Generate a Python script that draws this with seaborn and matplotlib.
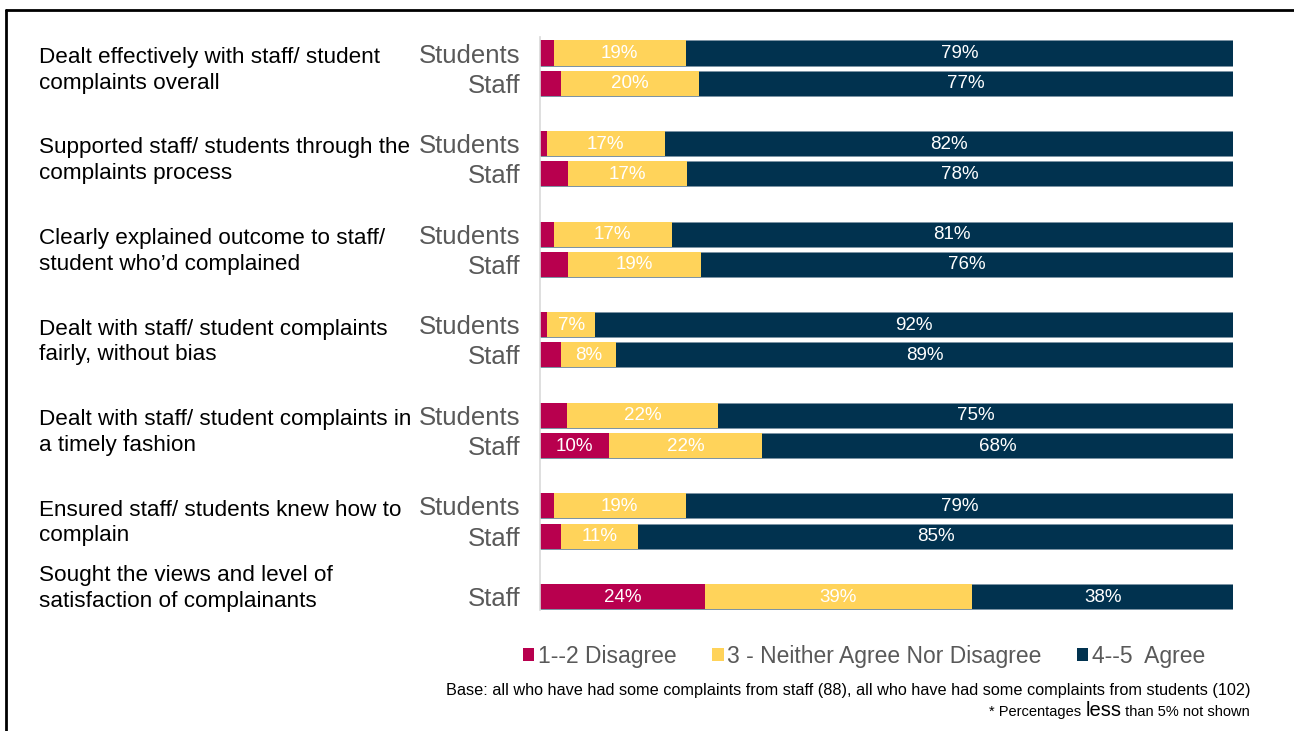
import numpy as np
import pandas as pd
import matplotlib
matplotlib.use("Agg")
import matplotlib.pyplot as plt
import matplotlib.transforms as mtransforms
from matplotlib.patches import Patch
from matplotlib.lines import Line2D
import seaborn as sns

# ---------------- data ----------------
questions = [
    "Dealt effectively with staff/ student\ncomplaints overall",
    "Supported staff/ students through the\ncomplaints process",
    "Clearly explained outcome to staff/\nstudent who\u2019d complained",
    "Dealt with staff/ student complaints\nfairly, without bias",
    "Dealt with staff/ student complaints in\na timely fashion",
    "Ensured staff/ students knew how to\ncomplain",
    "Sought the views and level of\nsatisfaction of complainants",
]
question_idx = [0, 0, 1, 1, 2, 2, 3, 3, 4, 4, 5, 5, 6]
respondent = ["Students", "Staff"] * 6 + ["Staff"]
disagree = [2, 3, 1, 4, 2, 4, 1, 3, 4, 10, 2, 3, 24]
neutral = [19, 20, 17, 17, 17, 19, 7, 8, 22, 22, 19, 11, 39]
agree = [79, 77, 82, 78, 81, 76, 92, 89, 75, 68, 79, 85, 38]
series_names = ["1--2 Disagree", "3 - Neither Agree Nor Disagree", "4--5  Agree"]
colors = ["#B8004E", "#FFD35A", "#01324F"]
base_note = ("Base: all who have had some complaints from staff (88), "
             "all who have had some complaints from students (102)")

# ---------------- layout helpers ----------------
df = pd.DataFrame({"q": question_idx, "who": respondent,
                   "d": disagree, "n": neutral, "a": agree})
df["slot"] = df.groupby("q").cumcount()
df["pos"] = df["q"] * 3 + df["slot"]
tot = df[["d", "n", "a"]].sum(axis=1)
for c in ["d", "n", "a"]:
    df[c + "_s"] = df[c] / tot * 100
df["c1"] = df["d_s"]
df["c2"] = df["d_s"] + df["n_s"]
df["c3"] = df["c2"] + df["a_s"]

sns.set_theme(style="white")
plt.rcParams["font.family"] = ["Liberation Sans", "DejaVu Sans"]

W, H = 1294, 731
fig = plt.figure(figsize=(W / 100, H / 100), dpi=100)
ax = fig.add_axes([540 / W, 1 - 610 / H, (1233 - 540) / W, (610 - 37) / H])

# stacked bars drawn back to front (cumulative)
for col, color, ec in [("c3", colors[2], "#7d94a4"), ("c2", colors[1], "none"), ("c1", colors[0], "none")]:
    sns.barplot(data=df, x=col, y="pos", orient="h", native_scale=True,
                color=color, width=0.83, errorbar=None, ax=ax,
                saturation=1, edgecolor=ec, linewidth=0.6 if ec != "none" else 0)

# value labels (>=5%)
for _, r in df.iterrows():
    starts = [0, r["c1"], r["c2"]]
    shares = [r["d_s"], r["n_s"], r["a_s"]]
    raw = [r["d"], r["n"], r["a"]]
    for s, w, v in zip(starts, shares, raw):
        if v >= 5:
            ax.text(s + w / 2, r["pos"] + 0.02, f"{int(v)}%", ha="center", va="center",
                    color="white", fontsize=13.5)

ax.set_xlim(0, 100)
ax.set_ylim(18.45, -0.53)
ax.set_xticks([])
ax.set_xlabel("")
ax.set_ylabel("")
ax.set_yticks(df["pos"].tolist())
ax.set_yticklabels(df["who"].tolist(), fontsize=18.5, color="#595959")
ax.tick_params(axis="y", length=0, pad=14)
for side in ["top", "right", "bottom"]:
    ax.spines[side].set_visible(False)
ax.spines["left"].set_color("#D9D9D9")
ax.spines["left"].set_linewidth(1.2)

# question labels
trans = mtransforms.blended_transform_factory(fig.transFigure, ax.transData)
for qi, qtext in enumerate(questions):
    g = df[df["q"] == qi]
    if len(g) > 1:
        yc = g["pos"].mean() + 0.07
    else:
        yc = g["pos"].iloc[0] - 0.27
    ax.text(39 / W, yc, qtext, transform=trans, ha="left", va="center",
            fontsize=16.2, color="black", linespacing=1.3)

# legend
handles = [Patch(facecolor=c, edgecolor="none") for c in colors]
fig.legend(handles, series_names, loc="center", ncol=3, frameon=False,
           bbox_to_anchor=(864 / W, 1 - 656 / H), fontsize=16.5,
           handlelength=0.5, handleheight=0.5, handletextpad=0.15,
           columnspacing=1.55, labelcolor="#595959")

# footnotes
fig.text(1250 / W, 1 - 690 / H, base_note, ha="right", va="center",
         fontsize=11.7, color="black")
renderer = fig.canvas.get_renderer()
x_right = 1250 / W
y_note = 1 - 716 / H
pieces = [(" than 5% not shown", 10.5), ("less", 14.5), ("* Percentages ", 10.5)]
for txt, fs in pieces:
    t = fig.text(x_right, y_note, txt, ha="right", va="baseline", fontsize=fs, color="black")
    bb = t.get_window_extent(renderer=renderer)
    x_right = bb.x0 / W

# slide frame
fig.add_artist(Line2D([6 / W, 6 / W], [0, 1 - 10 / H], color="black", linewidth=2))
fig.add_artist(Line2D([6 / W, 1], [1 - 10 / H, 1 - 10 / H], color="black", linewidth=2))

fig.savefig("out.png", dpi=100)
